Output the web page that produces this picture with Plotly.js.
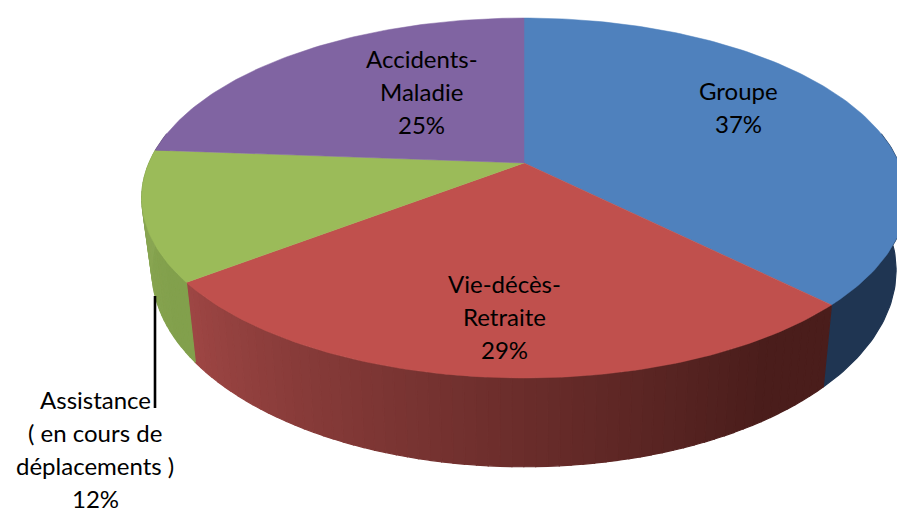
<!DOCTYPE html>
<html>
<head>
<meta charset="utf-8">
<script src="https://cdn.plot.ly/plotly-3.0.1.min.js"></script>
<style>html,body{margin:0;padding:0;background:#fff}#c{width:897px;height:510px}</style>
</head>
<body>
<div id="c"></div>
<script>
// Data
const categories = ['Groupe', 'Vie-décès-Retraite', 'Assistance ( en cours de déplacements )', 'Accidents-Maladie'];
const labelPercent = [37, 29, 12, 25];
// Drawn shares (labels total 103 %, the slices total 100 %)
const sliceShare = [37.5, 27.1, 11.6, 23.8];
const labelLines = [['Groupe', '37%'], ['Vie-décès-', 'Retraite', '29%'], ['Assistance', '( en cours de', 'déplacements )', '12%'], ['Accidents-', 'Maladie', '25%']];

// Styles
const topColors = ['#4F81BD', '#C0504D', '#9BBB59', '#8064A2'];
const wallFrom = [[31,53,82], [158,70,68], [140,168,85], [100,80,125]];
const wallTo   = [[31,53,82], [74,29,27], [130,160,76], [100,80,125]];
const labelAnchor = [[738.5, 90.5], [504.5, 283.5], [95, 399.5], [421.5, 58.5]];
const lineGap = 33;

// Projection of the unit disc to the page
const topDisc  = {c: 375, a: -141.5, b: 163, k: 0.1944};
const baseDisc = {c: 365, a: -144, b: 232, k: 0.1944};
const CX = 524;
const FRONT_FROM = 80, FRONT_TO = 280;   // only the front of the wall can be seen
function proj(d, deg) {
  const r = deg * Math.PI / 180, u = Math.sin(r), v = Math.cos(r), w = 1 + d.k * v;
  return [CX + d.c * u / w, (d.a * v + d.b) / w];
}

const traces = [];
function poly(xs, ys, color) {
  traces.push({type: 'scatter', mode: 'lines', x: xs, y: ys, fill: 'toself', fillcolor: color,
    line: {color: color, width: 1.2}, hoverinfo: 'skip', showlegend: false});
}

const total = sliceShare.reduce((a, b) => a + b, 0);
const startEnd = [];
let acc = 0;
sliceShare.forEach(s => { startEnd.push([acc / total * 360, (acc + s) / total * 360]); acc += s; });

// Side wall, painted behind the top
startEnd.forEach(([s0, s1], i) => {
  const a0 = Math.max(s0, FRONT_FROM), a1 = Math.min(s1, FRONT_TO);
  if (a1 <= a0) return;
  const flat = wallFrom[i].join() === wallTo[i].join();
  const n = flat ? 1 : Math.max(4, Math.round((a1 - a0) / 1.5));
  for (let j = 0; j < n; j++) {
    const p = a0 + (a1 - a0) * j / n, q = a0 + (a1 - a0) * (j + 1) / n;
    const xs = [], ys = [], m = Math.max(1, Math.ceil(q - p));
    for (let s = 0; s <= m; s++) { const P = proj(topDisc, p + (q - p) * s / m); xs.push(P[0]); ys.push(P[1]); }
    for (let s = m; s >= 0; s--) { const P = proj(baseDisc, p + (q - p) * s / m); xs.push(P[0]); ys.push(P[1]); }
    xs.push(xs[0]); ys.push(ys[0]);
    const t = Math.min(1, (1 - (j + 0.5) / n) * 1.15);
    const f = wallFrom[i], e = wallTo[i];
    poly(xs, ys, 'rgb(' + f.map((c, k) => Math.round(c + (e[k] - c) * t)).join(',') + ')');
  }
});

// Top face
startEnd.forEach(([a0, a1], i) => {
  const xs = [CX], ys = [topDisc.b];
  const n = Math.ceil(a1 - a0);
  for (let j = 0; j <= n; j++) {
    const P = proj(topDisc, a0 + (a1 - a0) * j / n);
    xs.push(P[0]); ys.push(P[1]);
  }
  xs.push(CX); ys.push(topDisc.b);
  traces.push({type: 'scatter', mode: 'lines', x: xs, y: ys, fill: 'toself', fillcolor: topColors[i],
    line: {color: topColors[i], width: 0.5}, name: categories[i], text: labelPercent[i] + '%',
    hoverinfo: 'name+text', showlegend: false});
});

// Leader line of the Assistance label
traces.push({type: 'scatter', mode: 'lines', x: [155, 155], y: [296, 408],
  line: {color: '#000', width: 2.6}, hoverinfo: 'skip', showlegend: false});

// Labels
const annotations = [];
labelLines.forEach((lines, i) => {
  lines.forEach((t, j) => {
    annotations.push({x: labelAnchor[i][0], y: labelAnchor[i][1] + j * lineGap, text: t, showarrow: false,
      xref: 'x', yref: 'y', xanchor: 'center', yanchor: 'middle',
      font: {family: 'Lato, Carlito, sans-serif', size: 24, color: '#000'}});
  });
});

Plotly.newPlot('c', traces, {
  width: 897, height: 510, margin: {l: 0, r: 0, t: 0, b: 0},
  paper_bgcolor: '#fff', plot_bgcolor: '#fff', showlegend: false,
  xaxis: {range: [0, 897], visible: false, fixedrange: true},
  yaxis: {range: [510, 0], visible: false, fixedrange: true},
  annotations: annotations
}, {displayModeBar: false, staticPlot: true});
</script>
</body>
</html>
